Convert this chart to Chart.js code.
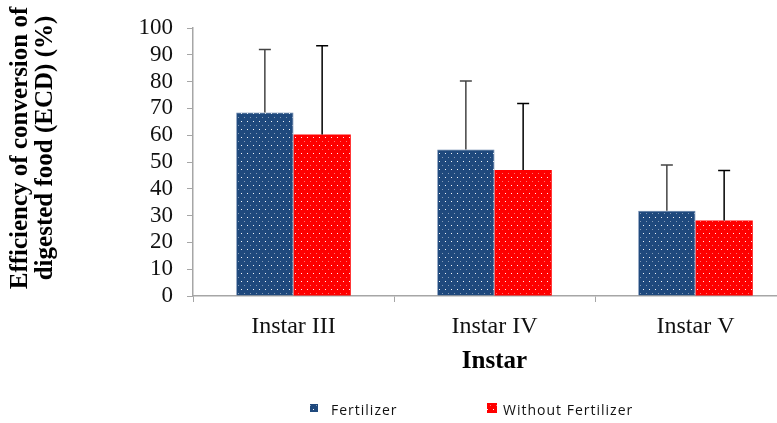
<!DOCTYPE html>
<html>
<head>
<meta charset="utf-8">
<script src="https://cdn.jsdelivr.net/npm/chart.js@4/dist/chart.umd.min.js"></script>
<style>
  html, body { margin: 0; padding: 0; background: #fff; overflow: hidden; }
  #wrap { width: 777px; height: 423px; overflow: hidden; }
  canvas { display: block; }
</style>
</head>
<body>
<div id="wrap"><canvas id="c" width="840" height="423"></canvas></div>
<script>
// Instar stages and ECD means (%) with their standard deviations
const categories = ['Instar III', 'Instar IV', 'Instar V'];
const seriesNames = ['Fertilizer', 'Without Fertilizer'];
const fertilizer = [68.5, 54.7, 31.8];
const fertilizerSD = [23.5, 25.5, 17.1];
const withoutFertilizer = [60.3, 47.0, 28.2];
const withoutFertilizerSD = [33.1, 24.8, 18.6];
const yTicks = [0, 10, 20, 30, 40, 50, 60, 70, 80, 90, 100];
const yTitle = ['Efficiency of conversion of', 'digested food (ECD) (%)'];

const BLUE = '#1F497D';
const RED = '#FF0000';

// Dotted fill, like a 5% pattern
function dotted(base) {
  const t = document.createElement('canvas');
  t.width = 6; t.height = 8;
  const g = t.getContext('2d');
  g.fillStyle = base;
  g.fillRect(0, 0, 6, 8);
  g.fillStyle = 'rgba(255,255,255,0.95)';
  g.fillRect(1, 1, 1, 1);
  g.fillStyle = 'rgba(255,255,255,0.45)';
  g.fillRect(4, 5, 1, 1);
  return g.createPattern(t, 'repeat');
}

const ctx = document.getElementById('c').getContext('2d');
const blueFill = dotted(BLUE);
const redFill = dotted(RED);

// Upper standard-deviation whiskers
const errorBars = {
  id: 'errorBars',
  afterDatasetsDraw(chart) {
    const y = chart.scales.y;
    const c = chart.ctx;
    chart.data.datasets.forEach((ds, i) => {
      const meta = chart.getDatasetMeta(i);
      meta.data.forEach((bar, j) => {
        const top = y.getPixelForValue(ds.data[j] + ds.sd[j]);
        c.save();
        c.strokeStyle = ds.errColor;
        c.lineWidth = 1.5;
        c.beginPath();
        c.moveTo(bar.x, bar.y);
        c.lineTo(bar.x, top);
        c.moveTo(bar.x - 6, top);
        c.lineTo(bar.x + 6, top);
        c.stroke();
        c.restore();
      });
    });
  }
};

// Two-line rotated y-axis title
const yAxisTitle = {
  id: 'yAxisTitle',
  afterDraw(chart) {
    const c = chart.ctx;
    c.save();
    c.translate(0, 148);
    c.rotate(-Math.PI / 2);
    c.font = 'bold 25px "Liberation Serif"';
    c.fillStyle = '#000';
    c.textAlign = 'center';
    c.textBaseline = 'middle';
    c.fillText(yTitle[0], 0, 21);
    c.fillText(yTitle[1], 0, 46);
    c.restore();
  }
};

const bottomLegend = {
  id: 'bottomLegend',
  afterDraw(chart) {
    const c = chart.ctx;
    const items = [
      { fill: blueFill, box: [310, 404, 8, 8], tx: 331 },
      { fill: redFill, box: [487, 403, 10, 10], tx: 503 }
    ];
    c.save();
    c.font = '14px "Open Sans"';
    c.letterSpacing = '1px';
    c.textBaseline = 'alphabetic';
    items.forEach((it, i) => {
      c.fillStyle = it.fill;
      c.fillRect(...it.box);
      c.fillStyle = '#111';
      c.fillText(seriesNames[i], it.tx, 415);
    });
    c.restore();
  }
};

new Chart(ctx, {
  type: 'bar',
  data: {
    labels: categories,
    datasets: [
      { label: seriesNames[0], data: fertilizer, sd: fertilizerSD, errColor: '#444',
        backgroundColor: blueFill, borderColor: '#5a78a4', borderWidth: 0.8,
        categoryPercentage: 0.57, barPercentage: 1.0 },
      { label: seriesNames[1], data: withoutFertilizer, sd: withoutFertilizerSD, errColor: '#000',
        backgroundColor: redFill, borderWidth: 0,
        categoryPercentage: 0.57, barPercentage: 1.0 }
    ]
  },
  options: {
    responsive: false,
    animation: false,
    devicePixelRatio: 1,
    layout: { padding: { top: 28, right: 44, bottom: 0, left: 0 } },
    plugins: { legend: { display: false }, tooltip: { enabled: false } },
    scales: {
      x: {
        grid: { offset: true, drawOnChartArea: false, tickLength: 6, color: '#a6a6a6' },
        border: { color: '#a6a6a6', width: 1.5 },
        ticks: { color: '#111', padding: 10, font: { family: '"Liberation Serif"', size: 24 } },
        title: { display: true, text: 'Instar', color: '#000', padding: { top: 0, bottom: 46 },
                 font: { family: '"Liberation Serif"', size: 25, weight: 'bold' } },
        afterFit(s) { s.height = 127; }
      },
      y: {
        min: 0, max: 100,
        afterBuildTicks(s) { s.ticks = yTicks.map(v => ({ value: v })); },
        grid: { drawOnChartArea: false, tickLength: 6, color: '#a6a6a6' },
        border: { color: '#a6a6a6', width: 1.5 },
        ticks: { color: '#111', padding: 14, autoSkip: false,
                 font: { family: '"Liberation Serif"', size: 23 } },
        afterFit(s) { s.width = 193; }
      }
    }
  },
  plugins: [errorBars, yAxisTitle, bottomLegend]
});
</script>
</body>
</html>
